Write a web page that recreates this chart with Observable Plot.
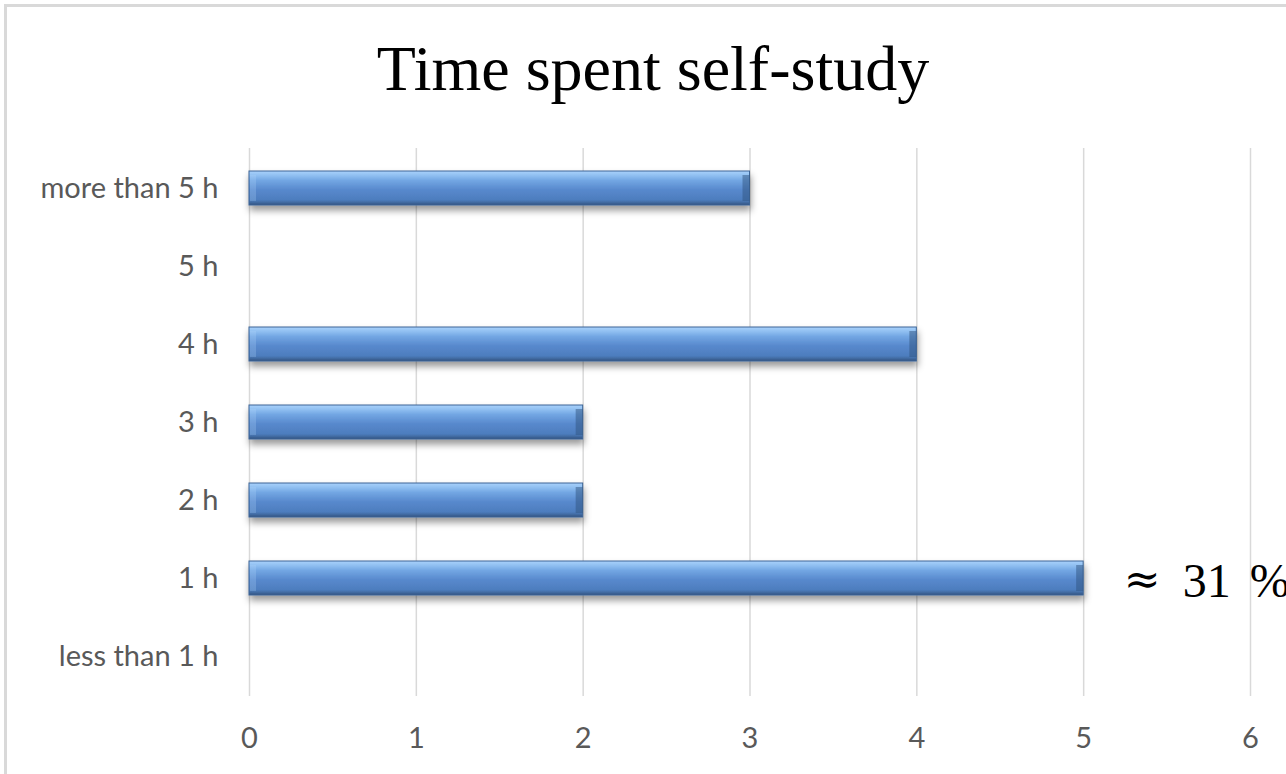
<!DOCTYPE html>
<html>
<head>
<meta charset="utf-8">
<script src="https://cdn.jsdelivr.net/npm/d3@7"></script>
<script src="https://cdn.jsdelivr.net/npm/@observablehq/plot@0.6"></script>
<style>
  html, body { margin: 0; padding: 0; background: #fff; overflow: hidden; }
  #frame { position: absolute; left: 4px; top: 4px; width: 1400px; height: 900px;
           border-left: 3px solid #d9d9d9; border-top: 3px solid #d9d9d9; box-sizing: border-box; }
  #wrap { position: absolute; left: 0; top: 0; width: 1286px; }
  #title { height: 120px; box-sizing: border-box; padding-top: 37px; padding-left: 20px;
           text-align: center; font-family: "Liberation Serif", "DejaVu Serif", serif;
           font-size: 64px; line-height: 64px; color: #000; white-space: nowrap; }
  svg { display: block; overflow: visible; }
  g[aria-label="bar"] rect { filter: url(#shadow); }
</style>
</head>
<body>
<div id="frame"></div>
<div id="wrap">
  <div id="title">Time spent self-study</div>
  <div id="chart"></div>
</div>
<script>
const categories = ["more than 5 h", "5 h", "4 h", "3 h", "2 h", "1 h", "less than 1 h"];
const values = [3, 0, 4, 2, 2, 5, 0];
const xTicks = [0, 1, 2, 3, 4, 5, 6];
const annotationCategory = "1 h";
const annotationValue = 5;
const annotationSymbol = "\u2248";
const annotationNumber = "31";
const annotationUnit = "%";

const data = categories.map((c, i) => ({ category: c, value: values[i] }));
const bars = data.filter(d => d.value > 0);
const anno = [{ category: annotationCategory, value: annotationValue }];

const defs = () => {
  const d = d3.create("svg:defs");
  const g = d.append("linearGradient").attr("id", "barGrad")
    .attr("x1", 0).attr("y1", 0).attr("x2", 0).attr("y2", 1);
  [[0, "#a9d1fb"], [0.12, "#92c1f2"], [0.28, "#72a6e3"], [0.55, "#5889cd"], [0.85, "#4d7dbe"], [0.93, "#40699f"], [1, "#31527f"]]
    .forEach(([o, c]) => g.append("stop").attr("offset", o).attr("stop-color", c));
  const f = d.append("filter").attr("id", "shadow").attr("x", "-5%").attr("y", "-40%").attr("width", "110%").attr("height", "200%");
  f.append("feDropShadow").attr("dx", 1).attr("dy", 5).attr("stdDeviation", 3.5)
    .attr("flood-color", "#000").attr("flood-opacity", 0.4);
  return d.node();
};

const chart = Plot.plot({
  width: 1286,
  height: 654,
  marginLeft: 249,
  marginRight: 36,
  marginTop: 28,
  marginBottom: 78,
  style: { fontFamily: "Lato, 'Open Sans', sans-serif", fontSize: "29px", color: "#595959", background: "transparent" },
  x: { domain: [0, 6], ticks: xTicks, tickFormat: d => String(d), tickSize: 0, tickPadding: 31, label: null },
  y: { domain: categories, paddingInner: 0.566, paddingOuter: 0.283, tickSize: 0, tickPadding: 31, label: null },
  marks: [
    defs,
    Plot.gridX(xTicks, { stroke: "#d9d9d9", strokeOpacity: 1, strokeWidth: 1.5 }),
    Plot.barX(bars, { y: "category", x: "value", fill: "url(#barGrad)", stroke: "#3c6596", strokeWidth: 1 }),
    Plot.tickX(bars, { y: "category", x: "value", stroke: "#2f5480", strokeOpacity: 0.5, strokeWidth: 7, dx: -4, insetTop: 4, insetBottom: 4 }),
    Plot.tickX(bars, { y: "category", x: 0, stroke: "#b5d7fb", strokeOpacity: 0.25, strokeWidth: 6, dx: 3.5, insetTop: 4, insetBottom: 4 }),
    Plot.text(anno, {
      y: "category", x: "value", text: () => annotationSymbol, textAnchor: "start", dx: 40, dy: 1,
      fontFamily: "'DejaVu Serif', serif", fontSize: 44, fill: "#000"
    }),
    Plot.text(anno, {
      y: "category", x: "value", text: () => annotationNumber, textAnchor: "start", dx: 99, dy: 3,
      fontFamily: "'Liberation Serif', 'DejaVu Serif', serif", fontSize: 48, fill: "#000"
    }),
    Plot.text(anno, {
      y: "category", x: "value", text: () => annotationUnit, textAnchor: "start", dx: 166, dy: 3,
      fontFamily: "'Liberation Serif', 'DejaVu Serif', serif", fontSize: 48, fill: "#000"
    })
  ]
});
document.getElementById("chart").appendChild(chart);
</script>
</body>
</html>
